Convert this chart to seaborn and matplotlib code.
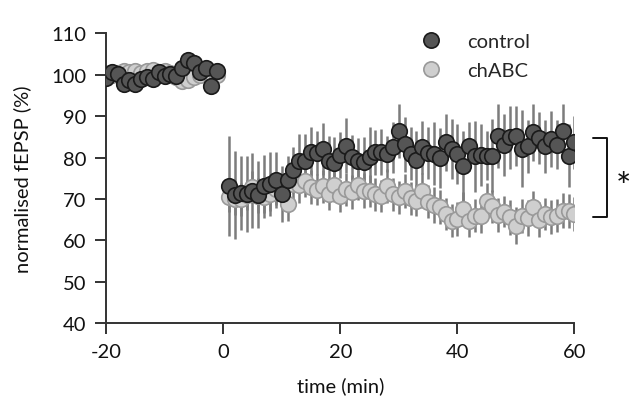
import matplotlib
matplotlib.use("Agg")
import matplotlib.pyplot as plt
from matplotlib.lines import Line2D
import seaborn as sns
import pandas as pd

# ---- data ----
base_time = [-20, -19, -18, -17, -16, -15, -14, -13, -12, -11,
             -10, -9, -8, -7, -6, -5, -4, -3, -2, -1]
post_time = list(range(1, 61))
time = base_time + post_time

control_base = [99.2, 100.6, 100.2, 97.8, 98.8, 97.8, 99.0, 99.4, 99.0, 100.6,
                99.8, 100.2, 99.7, 101.6, 103.7, 102.9, 100.6, 101.6, 97.4, 100.9]
control_post = [73.2, 71.0, 71.5, 71.2, 72.0, 71.1, 73.1, 73.6, 74.6, 71.2,
                74.7, 77.0, 79.2, 79.2, 81.4, 81.1, 82.1, 79.2, 78.6, 80.6,
                82.9, 80.1, 79.3, 79.0, 80.1, 81.3, 81.3, 80.9, 82.5, 86.4,
                83.2, 80.9, 79.5, 82.5, 81.1, 80.9, 79.9, 83.7, 82.1, 80.9,
                77.9, 82.7, 80.3, 80.6, 80.5, 80.5, 85.2, 83.1, 84.9, 85.3,
                82.1, 82.7, 86.1, 84.7, 82.7, 84.5, 83.1, 86.5, 80.5, 83.7]
control_err = [1.2, 1.0, 1.1, 1.2, 1.0, 1.1, 1.0, 1.2, 1.1, 1.0,
               1.2, 1.1, 1.0, 1.2, 1.1, 1.0, 1.2, 1.1, 1.3, 1.1,
               12.1, 10.7, 8.9, 9.1, 9.1, 8.2, 7.6, 7.8, 6.8, 6.8,
               5.8, 5.5, 6.5, 6.5, 5.9, 5.4, 6.3, 6.1, 6.5, 5.6,
               6.6, 5.4, 5.4, 6.1, 7.2, 5.5, 5.6, 4.3, 6.2, 6.6,
               6.7, 6.4, 7.0, 6.4, 6.2, 7.6, 7.2, 6.8, 7.2, 7.2,
               8.6, 5.9, 8.6, 7.5, 6.0, 8.9, 7.8, 7.5, 7.6, 7.2,
               9.3, 6.3, 6.8, 6.3, 6.3, 6.8, 5.9, 6.4, 7.6, 6.4]

chabc_base = [99.5, 100.0, 100.5, 101.0, 100.8, 101.0, 100.5, 101.0, 101.2, 100.5,
              101.0, 100.5, 99.5, 98.5, 98.8, 99.5, 100.0, 101.2, 99.5, 100.0]
chabc_post = [70.4, 70.0, 69.9, 71.0, 72.9, 70.8, 70.4, 71.2, 72.4, 72.0,
              68.8, 73.6, 73.4, 74.4, 72.9, 72.3, 73.1, 71.2, 73.4, 70.8,
              72.4, 71.6, 73.4, 72.0, 72.0, 71.2, 70.8, 73.1, 71.2, 70.4,
              72.0, 70.2, 69.6, 72.0, 69.4, 68.6, 68.0, 66.4, 64.8, 65.2,
              67.6, 64.8, 66.0, 66.0, 69.6, 68.3, 66.2, 67.0, 65.6, 63.6,
              65.8, 65.4, 68.0, 65.0, 66.4, 65.6, 66.0, 67.2, 67.2, 66.4]
chabc_err = [1.0, 1.1, 1.0, 1.2, 1.0, 1.1, 1.0, 1.2, 1.0, 1.1,
             1.0, 1.2, 1.1, 1.0, 1.2, 1.0, 1.1, 1.0, 1.2, 1.0,
             3.5, 3.8, 4.0, 3.6, 3.9, 4.2, 3.7, 4.0, 3.8, 4.1,
             4.0, 3.9, 4.3, 3.8, 4.1, 3.7, 4.0, 3.9, 4.2, 3.8,
             4.0, 4.1, 3.7, 4.2, 3.9, 4.0, 3.8, 4.1, 4.0, 3.9,
             4.1, 4.0, 3.8, 4.2, 3.9, 4.3, 4.1, 3.9, 4.0, 4.2,
             4.1, 3.9, 4.0, 4.2, 4.3, 4.0, 4.1, 3.8, 4.2, 4.4,
             4.1, 4.3, 4.0, 4.2, 3.9, 4.1, 4.0, 4.2, 4.1, 4.0]

groups = ["control", "chABC"]
x_ticks = [-20, 0, 20, 40, 60]
y_ticks = [40, 50, 60, 70, 80, 90, 100, 110]

control = control_base + control_post
chabc = chabc_base + chabc_post

df = pd.DataFrame({
    "time": time * 2,
    "value": control + chabc,
    "err": control_err + chabc_err,
    "group": [groups[0]] * len(time) + [groups[1]] * len(time),
})

# ---- style ----
sns.set_style("ticks")
plt.rcParams["font.family"] = ["Lato", "DejaVu Sans"]

fig = plt.figure(figsize=(6.39, 4.10), dpi=100)
ax = fig.add_axes([0.166, 0.209, 0.733, 0.707])

err_color = "#7c7c7c"
fills = {"control": "#555555", "chABC": "#cfcfcf"}
edges = {"control": "#1a1a1a", "chABC": "#999999"}

for g in groups:
    d = df[df["group"] == g]
    ax.errorbar(d["time"], d["value"], yerr=d["err"], fmt="none",
                ecolor=err_color, elinewidth=1.8, capsize=0, zorder=1)

# chABC below, control on top
for g, z in [("chABC", 2), ("control", 3)]:
    d = df[df["group"] == g]
    sns.scatterplot(data=d, x="time", y="value", ax=ax, s=125,
                    color=fills[g], edgecolor=edges[g], linewidth=1.2,
                    zorder=z, legend=False)

ax.set_xlim(-20, 60)
ax.set_ylim(40, 110)
ax.set_xticks(x_ticks)
ax.set_yticks(y_ticks)
ax.set_xticklabels([str(t) for t in x_ticks])
ax.set_yticklabels([str(t) for t in y_ticks])
ax.tick_params(axis="both", labelsize=14.5, length=8, width=1.4, color="#333333",
               labelcolor="#111111", pad=6)
for side in ["top", "right"]:
    ax.spines[side].set_visible(False)
for side in ["left", "bottom"]:
    ax.spines[side].set_linewidth(1.4)
    ax.spines[side].set_color("#333333")

ax.set_xlabel("time (min)", fontsize=14.5, labelpad=12, color="#111111")
ax.set_ylabel("normalised fEPSP (%)", fontsize=14.5, labelpad=15, color="#111111")

handles = [Line2D([0], [0], marker="o", linestyle="none", markersize=11,
                  markerfacecolor=fills[g], markeredgecolor=edges[g],
                  markeredgewidth=1.2, label=g) for g in groups]
ax.legend(handles=handles, loc="upper left", bbox_to_anchor=(0.612, 1.065),
          frameon=False, fontsize=14.5, handletextpad=0.8, labelspacing=0.6)

# significance bracket
bx, bl = 65.6, 63.2
ytop, ybot = 84.7, 65.7
ax.plot([bl, bx, bx, bl], [ytop, ytop, ybot, ybot], color="#111111",
        lw=1.4, clip_on=False)
ax.text(68.3, 72.8, "*", fontsize=26, ha="center", va="center",
        color="#111111", clip_on=False)

fig.savefig("out.png", dpi=100)
